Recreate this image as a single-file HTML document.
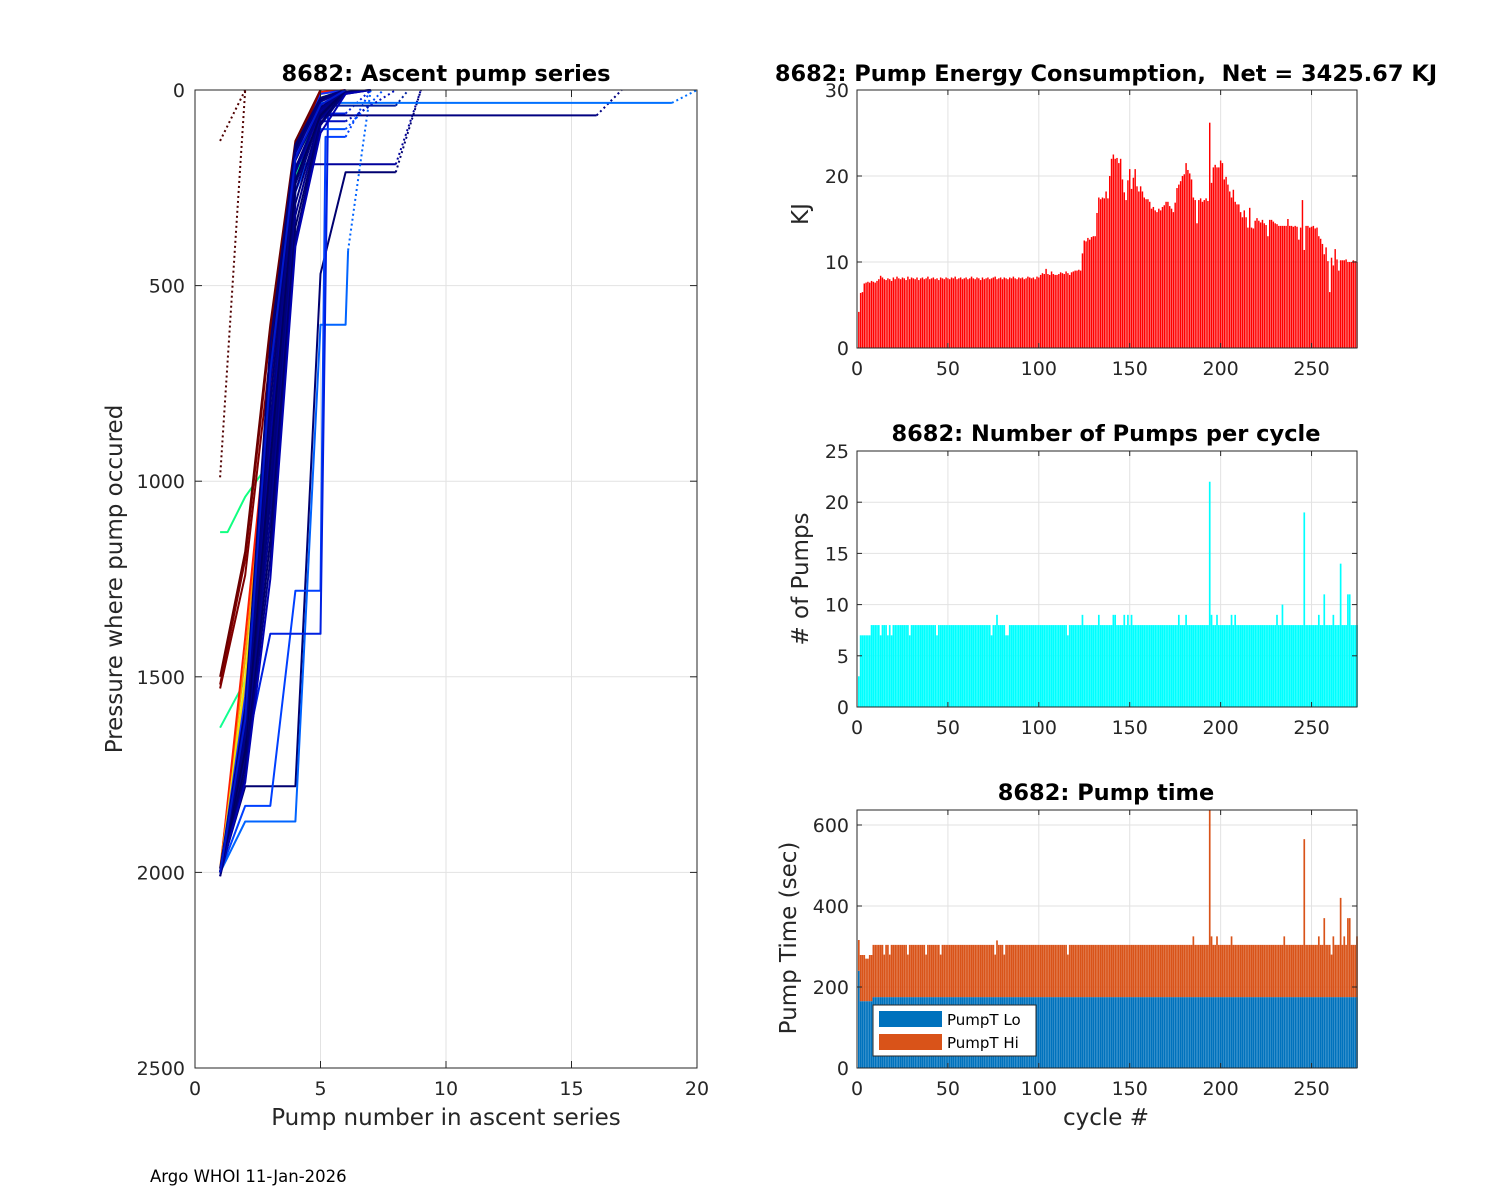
<!DOCTYPE html>
<html><head><meta charset="utf-8"><style>
html,body{margin:0;padding:0;background:#fff;}
svg{display:block;font-family:"DejaVu Sans","Liberation Sans",sans-serif;}
</style></head><body>
<svg id="fig" width="1500" height="1200" viewBox="0 0 1500 1200" xmlns="http://www.w3.org/2000/svg">
<rect x="0" y="0" width="1500" height="1200" fill="#fff"/>
<g id="left"></g>
<g id="energy"></g>
<g id="pumps"></g>
<g id="ptime"></g>
<text x="150" y="1182" font-size="16.5" fill="#000">Argo WHOI 11-Jan-2026</text>
</svg>
<script>
const energy=[4.2,6.4,6.5,7.5,7.6,7.7,7.6,7.8,7.7,7.6,
7.8,8.0,8.4,8.2,8.0,7.9,8.1,8.0,7.8,8.2,
8.0,8.3,8.1,8.0,8.2,8.1,7.9,8.3,8.0,8.2,
8.1,8.0,8.2,7.9,8.1,8.2,8.0,8.1,8.3,8.0,
8.1,8.2,8.0,8.1,7.9,8.2,8.1,8.0,8.2,8.1,
8.0,8.2,8.1,8.3,8.0,8.1,8.2,8.0,8.1,8.2,
8.0,8.1,8.3,8.1,8.0,8.2,8.1,7.9,8.2,8.0,
8.1,8.2,8.0,8.1,8.2,8.3,8.0,8.1,8.2,8.0,
8.2,8.1,8.0,8.2,8.1,8.3,8.1,8.0,8.2,8.1,
8.2,8.0,8.1,8.3,8.2,8.1,8.2,8.0,8.3,8.2,
8.5,8.7,8.6,9.2,8.6,8.5,8.9,8.6,8.5,8.5,
8.6,8.8,8.7,8.6,8.9,8.7,8.5,8.8,8.9,9.0,
9.0,9.1,9.0,11.0,12.5,12.4,12.8,12.6,12.9,13.0,
13.0,15.7,17.5,17.3,17.5,17.4,18.2,17.4,20.0,22.0,
22.5,22.0,22.1,21.5,22.0,19.6,18.1,17.2,19.5,20.8,
18.5,19.8,20.8,18.8,18.2,18.8,18.2,17.5,17.3,17.3,
17.0,16.2,16.4,16.0,15.8,16.2,16.0,16.4,16.6,17.0,
17.0,16.5,16.2,15.8,16.9,18.6,19.0,19.4,20.0,20.2,
21.5,20.7,20.3,19.6,17.5,17.2,14.5,17.2,17.4,17.0,
17.2,17.4,17.1,26.2,19.2,21.0,21.3,21.0,21.0,21.8,
21.5,19.6,19.9,19.0,18.2,17.5,18.4,17.0,16.7,16.7,
15.8,15.2,16.0,15.2,14.0,16.3,14.0,13.9,14.8,15.1,
14.8,14.6,14.9,14.5,14.3,13.0,14.9,14.9,14.7,14.5,
14.4,14.2,14.2,14.2,14.2,14.2,15.0,14.2,14.2,14.1,
14.2,14.1,12.6,14.0,17.2,11.4,14.2,14.2,14.0,14.1,
14.2,13.9,14.0,13.0,12.7,12.1,10.9,11.7,10.1,6.5,
10.5,9.6,11.5,10.3,9.0,10.2,10.2,10.2,10.3,10.0,
10.0,10.0,10.2,10.1,10.0];
const pumps=[3,7,7,7,7,7,7,8,8,8, 8,8,7,8,8,8,7,8,7,8, 8,8,8,8,8,8,8,8,7,8, 8,8,8,8,8,8,8,8,8,8,
8,8,8,7,8,8,8,8,8,8, 8,8,8,8,8,8,8,8,8,8, 8,8,8,8,8,8,8,8,8,8, 8,8,8,7,8,8,9,8,8,8,
8,7,7,8,8,8,8,8,8,8, 8,8,8,8,8,8,8,8,8,8, 8,8,8,8,8,8,8,8,8,8, 8,8,8,8,8,7,8,8,8,8,
8,8,8,9,8,8,8,8,8,8, 8,8,9,8,8,8,8,8,8,8, 9,9,8,8,8,8,9,8,9,8, 9,8,8,8,8,8,8,8,8,8,
8,8,8,8,8,8,8,8,8,8, 8,8,8,8,8,8,9,8,8,8, 9,8,8,8,8,8,8,8,8,8, 8,8,8,22,9,8,8,9,8,8,
8,8,8,8,8,9,8,9,8,8, 8,8,8,8,8,8,8,8,8,8, 8,8,8,8,8,8,8,8,8,8, 9,8,8,10,8,8,8,8,8,8,
8,8,8,8,8,19,8,8,8,8, 8,8,8,9,8,8,11,8,8,8, 8,9,8,8,8,14,8,8,8,11, 11,8,8,8,8];
const pumpLo=[240,165,165,165,165,165,165,165,175,175];
const pumpHi=[
76,114,114,114,105,105,114,114,129,129,
129,129,129,129,105,129,129,105,129,129,
129,129,129,129,129,129,129,105,129,129,
129,129,129,129,129,129,129,105,129,129,
129,129,129,129,129,105,129,129,129,129,
129,129,129,129,129,129,129,129,129,129,
129,129,129,129,129,129,129,129,129,129,
129,129,129,129,129,105,140,129,129,129,
105,129,129,129,129,129,129,129,129,129,
129,129,129,129,129,129,129,129,129,129,
129,129,129,129,129,129,129,129,129,129,
129,129,129,129,129,105,129,129,129,129,
129,129,129,129,129,129,129,129,129,129,
129,129,129,129,129,129,129,129,129,129,
129,129,129,129,129,129,129,129,129,129,
129,129,129,129,129,129,129,129,129,129,
129,129,129,129,129,129,129,129,129,129,
129,129,129,129,129,129,129,129,129,129,
129,129,129,129,150,129,129,129,129,129,
129,129,129,462,150,129,129,150,129,129,
129,129,129,129,129,150,129,129,129,129,
129,129,129,129,129,129,129,129,129,129,
129,129,129,129,129,129,129,129,129,129,
129,129,129,129,150,129,129,129,129,129,
129,129,129,129,129,390,129,129,129,129,
129,129,129,150,129,129,195,129,129,129,
105,150,129,129,129,245,129,150,129,195,
195,129,129,129,150];
const xTicksR=[0,50,100,150,200,250];
const yTicksE=[0,10,20,30];
const yTicksN=[0,5,10,15,20,25];
const yTicksT=[0,200,400,600];
const xTicksL=[0,5,10,15,20];
const yTicksL=[0,500,1000,1500,2000,2500];
// ascent profiles: flat [pump, pressure, pump, pressure, ...]
const profiles=[
[1,130,2,0],[1,990,2,0],
[1,2000,2,1650,3,900,4,200,5,50,6,0],
[1,2000,2,1780,4,1780,5,470,6,210,8,210],[8,210,9,0],
[1,2000,2,1760,3,1000,4,190,8,190],[8,190,9,0],
[1,2000,2,1870,4,1870,5,600,6,600,6.1,410],[6.1,410,7,0],
[1,2000,2,1830,3,1830,4,1280,5,1280,5.2,120,6,120],[6,120,7,0],
[1,2000,2,1700,3,1390,5,1390,5.3,60,6,60],[6,60,7,0],
[1,2000,2,1700,3,950,4,240,5,65,16,65],[16,65,17,0],
[1,2000,2,1680,3,920,4,220,5,33,19,33],[19,33,20,0],
[1,2000,2,1720,3,980,4,260,5,100,6,100],[6,100,7.5,0],
[1,2000,2,1700,3,940,4,230,5,40,8,40],[8,40,8.5,0],
[1,2000,2,1690,3,930,4,220,5,80,6,80],[6,80,8,0],
[1,1630,2,1510,3,950,4,220,5,20,6,0],
[1,1130,1.3,1130,2,1040,3,950,4,220,5,20,6,0],
[1,1990,2,1450,3,800,4,150,5,10,6,0],
[1,2000,2,1400,3,760,4,140,5,5,6,0],
[1,2000,2,1500,3,850,4,160,5,20,6,0],
[1,2000,2,1520,3,870,4,150,5,0],
[1,2000,2,1550,3,880,4,170,5,10,6,0],
[1,1520,2,1200,3,620,4,140,5,0],
[1,1500,2,1180,3,600,4,130,5,0],
[1,1530,2,1240,3,680,4,150,5,0],
[1,1990,2,1600,3,700,4,150,5,25,6,0],
[1,2000,2,1580,3,650,4,140,5,20,6,0],
[1,2000,2,1620,3,750,4,160,5,30,6,0],
[1,2000,2,1640,3,800,4,180,5,45,6,0],
[1,2000,2,1660,3,900,4,210,5,55,6,5,7,0],
[1,2000,2,1680,3,1000,4,260,5,60,6,0],
[1,2010,2,1700,3,1050,4,290,5,70,6,0],
[1,2000,2,1710,3,1100,4,320,5,75,6,10,7,0],
[1,2000,2,1730,3,1150,4,350,5,85,6,0],
[1,2010,2,1750,3,1200,4,380,5,90,6,5,7,0],
[1,2000,2,1770,3,1250,4,400,5,110,6,10,7,0],
[1,2000,2,1690,3,950,4,230,5,65,6,0],
[1,2000,2,1650,3,850,4,200,5,50,6,0],
[1,2000,2,1610,3,720,4,175,5,38,6,0],
[1,2000,2,1700,3,1120,4,300,5,120,6,20,7,0]
];
const profileColors=['#500000','#500000','#00008a','#000070','#000070','#00009c','#00009c','#0064ff','#0064ff','#0040ff','#0040ff','#0020e0','#0020e0',
'#000080','#000080','#0070ff','#0070ff','#0050ff','#0050ff','#00209f','#00209f','#0010c0','#0010c0',
'#10ff90','#10ff80','#ff9800','#ff2000','#c8ff28','#ffd000','#1030ff',
'#800000','#6a0000','#800000','#00006a','#000078','#000088','#000070','#0000a0','#000080','#00007a','#000090','#000068','#00007c','#0000b0','#000060','#000085','#0018d0'];
const profileDotted=[1,1,0,0,1,0,1,0,1,0,1,0,1,0,1,0,1,0,1,0,1,0,1,0,0,0,0,0,0,0,0,0,0,0,0,0,0,0,0,0,0,0,0,0,0,0,0];

const NS='http://www.w3.org/2000/svg';
function mk(parent,tag,attrs){const e=document.createElementNS(NS,tag);for(const k in attrs)e.setAttribute(k,attrs[k]);parent.appendChild(e);return e;}
function txt(parent,x,y,s,size,anchor,weight,rot){const t=mk(parent,'text',{x:x,y:y,'font-size':size,'text-anchor':anchor||'middle',fill:'#262626'});if(weight){t.setAttribute('font-weight',weight);t.setAttribute('fill','#000');}if(rot)t.setAttribute('transform','rotate(-90 '+x+' '+y+')');t.textContent=s;return t;}

// ---------- Left chart ----------
const L=document.getElementById('left');
const LX0=195,LX1=697,LY0=90,LY1=1068;
const xL=v=>LX0+v*(LX1-LX0)/20;
const yL=p=>LY0+p*(LY1-LY0)/2500;
xTicksL.forEach(v=>{if(v>0&&v<20){const g=mk(L,'line',{x1:xL(v),x2:xL(v),y1:LY0,y2:LY1,stroke:'#e2e2e2','stroke-width':1});}});
yTicksL.forEach(v=>{if(v>0&&v<2500){const g=mk(L,'line',{x1:LX0,x2:LX1,y1:yL(v),y2:yL(v),stroke:'#e2e2e2','stroke-width':1});}});
profiles.forEach((pr,i)=>{
 let pts=[];for(let k=0;k<pr.length;k+=2)pts.push(xL(pr[k]).toFixed(1)+','+yL(pr[k+1]).toFixed(1));
 const pl=mk(L,'polyline',{points:pts.join(' '),fill:'none',stroke:profileColors[i],'stroke-width':2,'stroke-linejoin':'round'});
 if(profileDotted[i])pl.setAttribute('stroke-dasharray','2,3');
 
 
});
mk(L,'rect',{x:LX0,y:LY0,width:LX1-LX0,height:LY1-LY0,fill:'none',stroke:'#262626','stroke-width':1});
xTicksL.forEach(v=>{mk(L,'line',{x1:xL(v),x2:xL(v),y1:LY1,y2:LY1-7,stroke:'#262626'});mk(L,'line',{x1:xL(v),x2:xL(v),y1:LY0,y2:LY0+7,stroke:'#262626'});const t=txt(L,xL(v),LY1+27,String(v),19);});
yTicksL.forEach(v=>{mk(L,'line',{x1:LX0,x2:LX0+7,y1:yL(v),y2:yL(v),stroke:'#262626'});mk(L,'line',{x1:LX1,x2:LX1-7,y1:yL(v),y2:yL(v),stroke:'#262626'});const t=txt(L,LX0-10,yL(v)+7,String(v),19,'end');});
let t=txt(L,446,81,'8682: Ascent pump series',22.5,'middle','bold');
t=txt(L,446,1125,'Pump number in ascent series',23);
t=txt(L,122,579,'Pressure where pump occured',23,'middle',null,true);

// ---------- Right charts ----------
const RX0=857,RX1=1357;
const xR=c=>RX0+c*(RX1-RX0)/275;
function panel(G,y0,y1,ymax,yticks){
 const yS=v=>y1-v*(y1-y0)/ymax;
 xTicksR.forEach(v=>{if(v>0){const g=mk(G,'line',{x1:xR(v),x2:xR(v),y1:y0,y2:y1,stroke:'#e2e2e2'});}});
 yticks.forEach(v=>{if(v>0&&v<ymax){const g=mk(G,'line',{x1:RX0,x2:RX1,y1:yS(v),y2:yS(v),stroke:'#e2e2e2'});}});
 return yS;
}
function frame(G,y0,y1,yS,yticks){
 mk(G,'rect',{x:RX0,y:y0,width:RX1-RX0,height:y1-y0,fill:'none',stroke:'#262626','stroke-width':1});
 xTicksR.forEach(v=>{mk(G,'line',{x1:xR(v),x2:xR(v),y1:y1,y2:y1-5,stroke:'#262626'});mk(G,'line',{x1:xR(v),x2:xR(v),y1:y0,y2:y0+5,stroke:'#262626'});const t=txt(G,xR(v),y1+27,String(v),19);});
 yticks.forEach(v=>{mk(G,'line',{x1:RX0,x2:RX0+5,y1:yS(v),y2:yS(v),stroke:'#262626'});mk(G,'line',{x1:RX1,x2:RX1-5,y1:yS(v),y2:yS(v),stroke:'#262626'});const t=txt(G,RX0-8,yS(v)+7,String(v),19,'end');});
}
// Energy
const E=document.getElementById('energy');
const yE=panel(E,90,348,30,yTicksE);
energy.forEach((v,i)=>{const c=i+1,w=0.8*(RX1-RX0)/275;const r=mk(E,'rect',{x:xR(c)-w/2,y:yE(v),width:w,height:yE(0)-yE(v),fill:'#ff0000'});});
frame(E,90,348,yE,yTicksE);
t=txt(E,1106,81,'8682: Pump Energy Consumption,  Net = 3425.67 KJ',22.5,'middle','bold');t.setAttribute('xml:space','preserve');t.setAttribute('style','white-space:pre');
t=txt(E,808,214,'KJ',23,'middle',null,true);
// Pumps
const P=document.getElementById('pumps');
const yN=panel(P,451,707,25,yTicksN);
pumps.forEach((v,i)=>{const c=i+1,w=0.92*(RX1-RX0)/275;const r=mk(P,'rect',{x:xR(c)-w/2,y:yN(v),width:w,height:yN(0)-yN(v),fill:'#00ffff'});});
frame(P,451,707,yN,yTicksN);
t=txt(P,1106,441,'8682: Number of Pumps per cycle',22.5,'middle','bold');
t=txt(P,808,579,'# of Pumps',23,'middle',null,true);
// Pump time
const T=document.getElementById('ptime');
const yT=panel(T,810,1068,637,yTicksT);
pumpHi.forEach((h,i)=>{const c=i+1,w=0.92*(RX1-RX0)/275;const lo=(i<pumpLo.length?pumpLo[i]:175);
 const rl=mk(T,'rect',{x:xR(c)-w/2,y:yT(lo),width:w,height:yT(0)-yT(lo),fill:'#0072bd'});
 
 
 const top=Math.min(lo+h,637);
 const rh=mk(T,'rect',{x:xR(c)-w/2,y:yT(top),width:w,height:yT(lo)-yT(top),fill:'#d95319'});
 
 
});
frame(T,810,1068,yT,yTicksT);
t=txt(T,1106,800,'8682: Pump time',22.5,'middle','bold');
t=txt(T,796,938,'Pump Time (sec)',23,'middle',null,true);
t=txt(T,1106,1125,'cycle #',23);
const lg=mk(T,'g',{});


mk(lg,'rect',{x:873,y:1005,width:163,height:51,fill:'#fff',stroke:'#262626'});
mk(lg,'rect',{x:879,y:1011,width:63,height:16,fill:'#0072bd'});
mk(lg,'rect',{x:879,y:1034,width:63,height:16,fill:'#d95319'});
t=txt(lg,947,1025,'PumpT Lo',15,'start');t.setAttribute('fill','#000');
t=txt(lg,947,1048,'PumpT Hi',15,'start');t.setAttribute('fill','#000');
</script>
</body></html>
